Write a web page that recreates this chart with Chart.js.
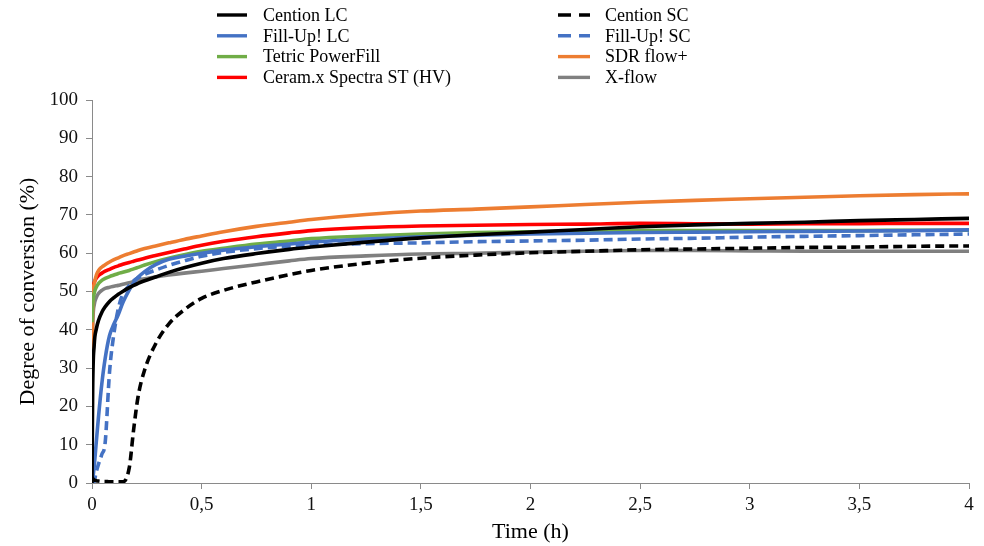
<!DOCTYPE html>
<html>
<head>
<meta charset="utf-8">
<script src="https://cdn.jsdelivr.net/npm/chart.js@4.4.1/dist/chart.umd.min.js"></script>
<style>
  html, body { margin: 0; padding: 0; background: #fff; }
  #wrap { width: 984px; height: 546px; position: relative; }
</style>
</head>
<body>
<div id="wrap"><canvas id="c" width="984" height="546"></canvas></div>
<script>
// Time (h)
const times = [0, 0.003, 0.01, 0.02, 0.03, 0.045, 0.06, 0.08, 0.1, 0.12, 0.14, 0.17, 0.19, 0.21, 0.24, 0.29, 0.35, 0.42, 0.5, 0.6, 0.75, 0.9, 1, 1.25, 1.5, 1.75, 2, 2.25, 2.5, 2.75, 3, 3.25, 3.5, 3.75, 4];

// Degree of conversion (%)
const centionLC = [0, 24, 36, 40.3, 42.5, 44.6, 46, 47.4, 48.4, 49.3, 50, 51, 51.6, 52.1, 52.8, 53.8, 55, 56.2, 57.4, 58.6, 59.9, 61, 61.6, 62.9, 64, 64.8, 65.5, 66.2, 66.9, 67.4, 67.8, 68.1, 68.5, 68.8, 69.1];
const centionSC = [1.5, 1.2, 0.8, 0.6, 0.5, 0.4, 0.4, 0.3, 0.3, 0.3, 0.3, 4, 14, 22.5, 29.5, 36.3, 41.5, 45.2, 48.2, 50.3, 52.5, 54.4, 55.5, 57.4, 58.7, 59.5, 60.1, 60.5, 60.9, 61.1, 61.3, 61.5, 61.6, 61.8, 61.9];
const fillUpLC = [0, 1, 4.3, 11, 17.5, 26, 32.5, 38.5, 41.5, 44, 47, 50.4, 52.3, 53.7, 55.2, 57, 58.4, 59.2, 60, 60.8, 61.7, 62.4, 62.9, 63.7, 64.3, 64.7, 65, 65.2, 65.4, 65.5, 65.6, 65.7, 65.8, 65.9, 66.1];
const fillUpSC = [0, 0, 0.5, 3, 5, 7.5, 10.5, 29, 39, 45.5, 49.3, 51.5, 52.8, 53.6, 54.5, 55.6, 56.8, 58, 59.2, 60.2, 61.2, 61.8, 62.1, 62.5, 62.7, 63, 63.2, 63.4, 63.7, 63.9, 64.2, 64.4, 64.6, 64.8, 65];
const tetricPowerFill = [42, 46.5, 49.5, 51.2, 52.1, 52.9, 53.4, 53.9, 54.3, 54.7, 55, 55.5, 55.9, 56.3, 56.9, 57.8, 58.7, 59.6, 60.5, 61.3, 62.4, 63.2, 63.8, 64.5, 65, 65.4, 65.6, 65.8, 65.9, 65.9, 65.9, 65.9, 65.9, 66, 66];
const sdrFlow = [19, 46, 52, 54.3, 55.5, 56.4, 57, 57.7, 58.3, 58.8, 59.3, 59.9, 60.3, 60.7, 61.2, 61.9, 62.7, 63.6, 64.5, 65.6, 67, 68.1, 68.8, 70.1, 71, 71.5, 72.1, 72.7, 73.3, 73.8, 74.2, 74.6, 75, 75.3, 75.5];
const ceramX = [44, 50, 52.3, 53.5, 54.2, 54.8, 55.3, 55.8, 56.3, 56.7, 57.1, 57.6, 57.9, 58.2, 58.7, 59.4, 60.2, 61.1, 62.1, 63.1, 64.3, 65.3, 65.9, 66.7, 67.1, 67.3, 67.5, 67.6, 67.8, 67.7, 67.6, 67.7, 67.7, 67.8, 67.8];
const xFlow = [20, 40, 46.5, 48.5, 49.5, 50.3, 50.8, 51.1, 51.4, 51.6, 51.9, 52.3, 52.6, 52.9, 53.3, 53.8, 54.3, 54.8, 55.3, 56, 57, 58, 58.6, 59.3, 59.8, 60, 60.3, 60.5, 60.7, 60.7, 60.6, 60.5, 60.5, 60.5, 60.5];

const xTicks = [0, 0.5, 1, 1.5, 2, 2.5, 3, 3.5, 4];
const yTicks = [0, 10, 20, 30, 40, 50, 60, 70, 80, 90, 100];

const seriesNames = ['Cention LC', 'Cention SC', 'Fill-Up! LC', 'Fill-Up! SC', 'Tetric PowerFill', 'SDR flow+', 'Ceram.x Spectra ST (HV)', 'X-flow'];
const seriesValues = [centionLC, centionSC, fillUpLC, fillUpSC, tetricPowerFill, sdrFlow, ceramX, xFlow];
const seriesColors = ['#000000', '#000000', '#4472C4', '#4472C4', '#70AD47', '#ED7D31', '#FF0000', '#808080'];
const seriesDashed = [false, true, false, true, false, false, false, false];

const FONT = '"Liberation Serif", "Times New Roman", serif';
const AXIS_COLOR = '#8a8a8a';

const datasets = seriesNames.map((name, i) => ({
  label: name,
  data: times.map((t, k) => ({ x: t, y: seriesValues[i][k] })),
  borderColor: seriesColors[i],
  backgroundColor: seriesColors[i],
  borderWidth: 3.6,
  borderDash: seriesDashed[i] ? [9, 5] : [],
  pointRadius: 0,
  cubicInterpolationMode: 'monotone',
  fill: false
}));

const legendPlugin = {
  id: 'twoColLegend',
  afterDraw(chart) {
    const ctx = chart.ctx;
    ctx.save();
    ctx.font = '18px ' + FONT;
    ctx.textBaseline = 'middle';
    ctx.fillStyle = '#000';
    chart.data.datasets.forEach((ds, i) => {
      const col = i % 2, row = Math.floor(i / 2);
      const y = 15 + row * 20.8;
      const x0 = col === 0 ? 217 : 558;
      const x1 = col === 0 ? 247 : 590;
      const tx = col === 0 ? 263 : 605;
      ctx.beginPath();
      ctx.strokeStyle = ds.borderColor;
      ctx.lineWidth = 3.4;
      ctx.setLineDash(ds.borderDash && ds.borderDash.length ? [13, 8] : []);
      ctx.moveTo(x0, y);
      ctx.lineTo(x1, y);
      ctx.stroke();
      ctx.setLineDash([]);
      ctx.fillText(ds.label, tx, y + 1);
    });
    ctx.restore();
  }
};

new Chart(document.getElementById('c'), {
  type: 'line',
  data: { datasets },
  options: {
    responsive: false,
    animation: false,
    maintainAspectRatio: false,
    layout: { padding: { top: 100, right: 15, left: 0, bottom: 0 } },
    plugins: { legend: { display: false }, tooltip: { enabled: false } },
    scales: {
      x: {
        type: 'linear',
        min: 0, max: 4,
        afterFit(s) { s.height = 63; },
        afterBuildTicks(s) { s.ticks = xTicks.map(v => ({ value: v })); },
        ticks: {
          font: { family: FONT, size: 19 },
          color: '#111',
          padding: 5,
          maxRotation: 0,
          callback: v => String(v).replace('.', ',')
        },
        grid: { drawOnChartArea: false, drawTicks: true, tickLength: 6, color: AXIS_COLOR },
        border: { display: true, color: AXIS_COLOR, width: 1 },
        title: { display: true, text: 'Time (h)', font: { family: FONT, size: 22 }, color: '#000', padding: { top: 0, bottom: 1 } }
      },
      y: {
        type: 'linear',
        min: 0, max: 100,
        afterFit(s) { s.width = 92; },
        afterBuildTicks(s) { s.ticks = yTicks.map(v => ({ value: v })); },
        ticks: {
          font: { family: FONT, size: 19 },
          color: '#111',
          padding: 8
        },
        grid: { drawOnChartArea: false, drawTicks: true, tickLength: 6, color: AXIS_COLOR },
        border: { display: true, color: AXIS_COLOR, width: 1 },
        title: { display: true, text: 'Degree of conversion (%)', font: { family: FONT, size: 22 }, color: '#000', padding: { top: 15, bottom: 0 } }
      }
    }
  },
  plugins: [legendPlugin]
});
</script>
</body>
</html>
